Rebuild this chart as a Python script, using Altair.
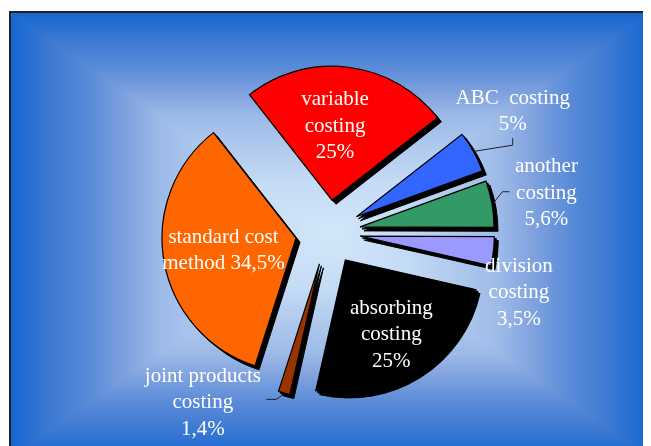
import altair as alt
import pandas as pd

# ---- data ----
categories = ["variable costing", "ABC costing", "another costing", "division costing",
              "absorbing costing", "joint products costing", "standard cost method"]
values = [25, 5, 5.6, 3.5, 25, 1.4, 34.5]
label_texts = ["variable\ncosting\n25%", "ABC\u00a0 costing\n5%", "another\ncosting\n5,6%",
               "division\ncosting\n3,5%", "absorbing\ncosting\n25%",
               "joint products\ncosting\n1,4%", "standard cost\nmethod 34,5%"]
colors = ["#FF0000", "#3366FF", "#339966", "#9999FF", "#000000", "#993300", "#FF6600"]

# ---- layout / style ----
W, H = 635, 438
CX, CY = 320, 224.5
R = 134
EXPLODE = 32.5
START_DEG = -38
DEPTH = 4
LH = 26.5
label_radius = [107, 221, 222, 200, 120, 211, 106]
label_shift_deg = [-3.2, -4.3, -0.4, 10.9, 0.4, 21.1, 0.5]
# leader lines (relative to label centre): elbow and end offsets
leader_elbow_dx = [None, 0, -44, None, None, 73.5, None]
leader_elbow_dy = [None, 34, -1, None, None, -3, None]
leader_end_dx = [None, 0, -37, None, None, 63.5, None]
leader_end_dy = [None, 27, -1, None, None, -3, None]

df = pd.DataFrame({
    "category": categories,
    "value": values,
    "label": label_texts,
    "order": list(range(len(categories))),
    "lr": label_radius,
    "ls": label_shift_deg,
    "edx": leader_elbow_dx,
    "edy": leader_elbow_dy,
    "ndx": leader_end_dx,
    "ndy": leader_end_dy,
})

base = alt.Chart(df).transform_joinaggregate(
    total="sum(value)"
).transform_window(
    cum="sum(value)", sort=[alt.SortField("order")], frame=[None, 0]
).transform_calculate(
    t0=f"(datum.cum - datum.value) / datum.total * 2 * PI + {START_DEG} * PI / 180",
    t1=f"datum.cum / datum.total * 2 * PI + {START_DEG} * PI / 180",
).transform_calculate(
    mid="(datum.t0 + datum.t1) / 2",
).transform_calculate(
    ex=f"{CX} + {EXPLODE} * sin(datum.mid)",
    ey=f"{CY} - {EXPLODE} * cos(datum.mid)",
    lt="datum.mid + datum.ls * PI / 180",
    nl="length(split(datum.label, '\\n'))",
).transform_calculate(
    sx=f"datum.ex + {DEPTH}",
    sy=f"datum.ey + {DEPTH}",
    sx2=f"datum.ex + {DEPTH/2}",
    sy2=f"datum.ey + {DEPTH/2}",
    lcx=f"{CX} + datum.lr * sin(datum.lt)",
    lcy=f"{CY} - datum.lr * cos(datum.lt)",
    ox=f"datum.ex + ({R} + 1) * sin(datum.mid)",
    oy=f"datum.ey - ({R} + 1) * cos(datum.mid)",
).transform_calculate(
    ly=f"datum.lcy - (datum.nl - 1) * {LH} / 2",
)

edge = "#1466d2"
stops_h = [alt.GradientStop(color=edge, offset=0),
           alt.GradientStop(color="#3a78d2", offset=0.06),
           alt.GradientStop(color="#5a8bd8", offset=0.125),
           alt.GradientStop(color="#84a5e0", offset=0.19),
           alt.GradientStop(color="#9dbae8", offset=0.235),
           alt.GradientStop(color="#c4dbf5", offset=0.38),
           alt.GradientStop(color="#d3e7f9", offset=0.5),
           alt.GradientStop(color="#c4dbf5", offset=0.62),
           alt.GradientStop(color="#9dbae8", offset=0.765),
           alt.GradientStop(color="#84a5e0", offset=0.81),
           alt.GradientStop(color="#5a8bd8", offset=0.875),
           alt.GradientStop(color="#3a78d2", offset=0.94),
           alt.GradientStop(color=edge, offset=1)]

bg_h = alt.Chart(df).mark_rect(
    fill=alt.LinearGradient(gradient="linear", x1=0, x2=1, y1=0, y2=0, stops=stops_h),
).encode(x=alt.value(2), x2=alt.value(642), y=alt.value(4), y2=alt.value(450))

bg_v = alt.Chart(df).mark_rect(
    fill=alt.LinearGradient(gradient="linear", x1=0, x2=0, y1=0, y2=1, stops=stops_h),
    blend="darken",
).encode(x=alt.value(2), x2=alt.value(642), y=alt.value(4), y2=alt.value(450))

frame = alt.Chart(df).mark_rect(
    fill="transparent", stroke="#222222", strokeWidth=1.5,
).encode(x=alt.value(2), x2=alt.value(700), y=alt.value(4), y2=alt.value(500))

shadow1 = base.mark_arc(radius=R, fill="black", stroke="black", strokeWidth=1).encode(
    x=alt.X("sx2:Q", scale=None, axis=None),
    y=alt.Y("sy2:Q", scale=None, axis=None),
    theta=alt.Theta("t0:Q", scale=None, stack=None),
    theta2="t1:Q",
)
shadow2 = base.mark_arc(radius=R, fill="black", stroke="black", strokeWidth=1).encode(
    x=alt.X("sx:Q", scale=None, axis=None),
    y=alt.Y("sy:Q", scale=None, axis=None),
    theta=alt.Theta("t0:Q", scale=None, stack=None),
    theta2="t1:Q",
)

slices = base.mark_arc(radius=R, stroke="black", strokeWidth=1.2).encode(
    x=alt.X("ex:Q", scale=None, axis=None),
    y=alt.Y("ey:Q", scale=None, axis=None),
    theta=alt.Theta("t0:Q", scale=None, stack=None),
    theta2="t1:Q",
    color=alt.Color("category:N", scale=alt.Scale(domain=categories, range=colors), legend=None),
)

leader_base = base.transform_filter("datum.edx != null").transform_calculate(
    elx="datum.lcx + datum.edx",
    ely="datum.lcy + datum.edy",
    enx="datum.lcx + datum.ndx",
    eny="datum.lcy + datum.ndy",
)
leader1 = leader_base.mark_rule(color="#222222", strokeWidth=1).encode(
    x=alt.X("ox:Q", scale=None), y=alt.Y("oy:Q", scale=None),
    x2="elx:Q", y2="ely:Q",
)
leader2 = leader_base.mark_rule(color="#222222", strokeWidth=1).encode(
    x=alt.X("elx:Q", scale=None), y=alt.Y("ely:Q", scale=None),
    x2="enx:Q", y2="eny:Q",
)

labels = base.mark_text(
    font="Liberation Serif", fontSize=21, color="white", lineBreak="\n",
    lineHeight=LH, align="center", baseline="middle",
).encode(
    x=alt.X("lcx:Q", scale=None, axis=None),
    y=alt.Y("ly:Q", scale=None, axis=None),
    text="label:N",
)

chart = alt.layer(bg_h, bg_v, frame, shadow1, shadow2, slices, leader1, leader2, labels).properties(
    width=W, height=H, padding=0, autosize=alt.AutoSizeParams(type="none"),
    background="white",
).configure_view(stroke=None)

chart.save("out.html", embed_options={"renderer": "svg", "actions": False})
